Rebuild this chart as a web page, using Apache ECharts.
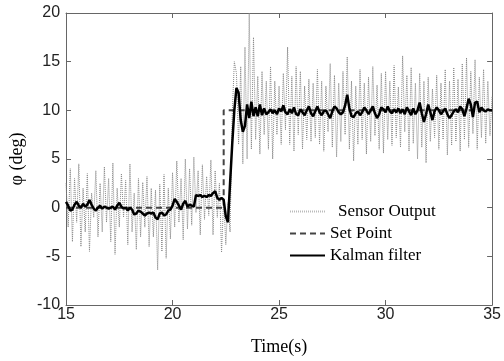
<!DOCTYPE html>
<html>
<head>
<meta charset="utf-8">
<script src="https://cdn.jsdelivr.net/npm/echarts@6/dist/echarts.min.js"></script>
<style>
  html, body { margin: 0; padding: 0; background: #fff; }
  #chart { width: 504px; height: 361px; }
</style>
</head>
<body>
<div id="chart"></div>
<script>
  // time grid: 15 s to 35 s, one sample every 0.1 s
  const tStart = 15;
  const tStep = 0.1;

  // raw sensor angle (deg)
  const sensorValues = [
    2.5, -2.0, 4.0, -3.5, 3.0, -1.5, 4.5, -4.0, 2.0, -2.5,
    3.5, -4.5, 1.5, -1.0, 3.8, -3.0, 2.5, -2.5, 4.2, -1.5,
    3.0, -3.5, 4.6, -4.8, 2.0, -2.0, 3.5, -1.0, 2.8, -3.8,
    4.5, -2.5, 1.5, -4.3, 3.0, -3.0, 2.6, -2.0, 3.2, -4.0,
    2.0, -3.0, 1.8, -6.4, 2.4, -4.5, 3.4, -5.2, 2.0, -3.2,
    3.6, -2.0, 4.8, -1.5, 3.0, -3.3, 5.0, -2.2, 4.0, -1.8,
    5.2, -0.5, 3.8, -2.8, 4.4, -1.2, 3.2, -0.8, 4.9, -2.8,
    3.8, -1.0, 2.5, -4.6, 1.0, -3.8, 0.5, -2.5, 9.5, 15.0,
    13.8, 6.5, 14.5, 4.5, 16.5, 5.0, 20.0, 6.0, 17.5, 7.0,
    13.5, 5.5, 14.0, 7.5, 13.0, 6.0, 14.5, 5.0, 13.0, 7.5,
    12.5, 6.5, 13.8, 8.0, 16.5, 6.5, 13.5, 5.8, 14.5, 7.5,
    14.0, 6.0, 12.5, 7.0, 13.2, 6.8, 12.8, 7.2, 14.2, 6.5,
    13.0, 5.8, 12.5, 7.8, 14.8, 6.2, 13.6, 5.2, 12.8, 6.8,
    14.0, 7.5, 15.5, 6.0, 13.0, 4.8, 12.5, 6.5, 14.2, 7.0,
    12.8, 5.5, 13.4, 6.8, 14.5, 7.4, 12.6, 6.0, 13.8, 5.6,
    14.0, 7.0, 13.0, 6.4, 14.6, 7.2, 12.4, 6.2, 15.6, 7.8,
    13.6, 5.8, 14.4, 6.6, 12.8, 5.0, 13.8, 6.2, 13.0, 4.6,
    13.4, 6.8, 12.2, 7.2, 13.6, 6.0, 12.8, 7.0, 14.2, 5.4,
    13.0, 6.4, 14.4, 6.8, 13.2, 5.8, 14.8, 7.0, 15.4, 6.2,
    14.0, 7.6, 15.2, 6.0, 13.4, 7.2, 14.2, 6.6, 13.0, 7.4,
    11.5
  ];

  // kalman filter output (deg)
  const kalmanValues = [
    0.6, 0.2, -0.3, -0.2, 0.3, 0.6, 0.2, 0.0, 0.4, 0.1,
    0.3, 0.8, 0.3, -0.1, -0.3, 0.0, 0.2, -0.1, 0.1, 0.0,
    -0.1, 0.0, 0.1, -0.2, 0.2, 0.5, 0.1, -0.1, 0.0, -0.3,
    0.0, -0.2, -0.7, -0.6, -0.3, -0.4, -0.6, -0.8, -0.6, -0.5,
    -0.6, -0.5, -1.0, -1.2, -0.6, -0.5, -0.8, -0.7, -0.3, -0.2,
    0.2, 0.9, 0.6, 0.2, -0.2, 0.4, 0.7, 0.1, 0.3, 0.2,
    0.1, 1.3, 1.2, 1.3, 1.1, 1.2, 1.1, 1.3, 1.2, 1.5,
    1.7, 1.0, 0.8, 1.0, 0.8, -0.9, -1.5, 2.5, 6.5, 10.0,
    12.3, 11.8, 9.0, 7.8, 8.4, 10.6, 9.2, 10.9, 9.4, 10.3,
    9.4, 10.6, 9.5, 10.2, 9.6, 9.8, 10.1, 9.7, 10.0, 9.6,
    10.2, 9.9, 10.5, 9.8, 9.6, 10.1, 9.7, 10.3, 9.6, 9.5,
    10.1, 9.8, 9.5, 10.0, 10.4, 9.7, 9.4, 9.9, 10.4, 9.8,
    9.5, 9.9, 10.0, 9.6, 9.2, 9.9, 10.4, 10.2, 9.8, 9.6,
    9.8, 10.5, 11.6, 10.2, 9.4, 9.3, 9.7, 9.9, 9.5, 9.8,
    10.3, 10.0, 9.6, 10.0, 10.4, 9.7, 9.2, 9.6, 10.3, 10.1,
    9.8, 10.4, 9.9, 9.7, 10.1, 9.8, 10.2, 9.7, 10.1, 9.6,
    10.3, 9.9, 9.5, 10.2, 9.6, 10.0, 10.8, 9.7, 8.8, 9.6,
    10.6, 9.8, 9.0, 9.9, 10.3, 10.0, 9.6, 9.9, 10.2, 9.6,
    9.2, 9.5, 9.9, 10.1, 9.8, 10.4, 10.1, 9.4, 10.2, 11.2,
    10.6, 9.3, 10.8, 10.9, 9.8, 10.3, 10.0, 9.9, 10.1, 10.0,
    10.0
  ];

  // set point: step from 0 to 10 deg at 22.4 s
  const setTimes = [15, 22.4, 22.4, 35];
  const setValues = [0, 0, 10, 10];

  const seriesNames = ['Sensor Output', 'Set Point', 'Kalman filter'];
  const xTicks = [15, 20, 25, 30, 35];
  const yTicks = [-10, -5, 0, 5, 10, 15, 20];

  function toPairs(vals){
    return vals.map((v, i) => [+(tStart + i * tStep).toFixed(1), v]);
  }

  const sansFont = '"Liberation Sans", Arial, sans-serif';
  const serifFont = '"Liberation Serif", "Times New Roman", serif';
  const axisColor = '#666';

  // box axes on top/right: line + inward ticks, no labels
  function boxAxis(pos, ticks){
    return {
      type: 'value',
      position: pos,
      min: ticks[0],
      max: ticks[ticks.length - 1],
      interval: 5,
      axisLine: { show: true, onZero: false, lineStyle: { color: axisColor, width: 1 } },
      axisTick: { show: true, inside: true, length: 5, lineStyle: { color: axisColor } },
      axisLabel: { show: false },
      splitLine: { show: false }
    };
  }

  let myChart = echarts.init(document.getElementById('chart'));
  let option = {
    animation: false,
    backgroundColor: '#fff',
    grid: { left: 56, right: 9, top: 13, bottom: 56 },
    legend: {
      orient: 'vertical',
      left: 284,
      top: 198,
      itemWidth: 35,
      itemHeight: 14,
      itemGap: 5,
      data: [
        { name: seriesNames[0], lineStyle: { color: '#bbb' }, textStyle: { padding: [0, 0, 0, 8] } },
        { name: seriesNames[1] },
        { name: seriesNames[2] }
      ],
      itemStyle: { opacity: 0 },
      textStyle: { fontFamily: serifFont, fontSize: 17, color: '#000' }
    },
    xAxis: [{
      type: 'value',
      min: xTicks[0],
      max: xTicks[xTicks.length - 1],
      interval: 5,
      name: 'Time(s)',
      nameLocation: 'middle',
      nameGap: 33,
      nameTextStyle: { fontFamily: serifFont, fontSize: 18, color: '#000' },
      axisLine: { onZero: false, lineStyle: { color: axisColor, width: 1 } },
      axisTick: { inside: true, length: 5, lineStyle: { color: axisColor } },
      axisLabel: { margin: 2, fontFamily: sansFont, fontSize: 16, color: '#222' },
      splitLine: { show: false }
    }, boxAxis('top', xTicks)],
    yAxis: [{
      type: 'value',
      min: yTicks[0],
      max: yTicks[yTicks.length - 1],
      interval: 5,
      name: 'φ (deg)',
      nameLocation: 'middle',
      nameGap: 39,
      nameTextStyle: { fontFamily: serifFont, fontSize: 18, color: '#000' },
      axisLine: { show: true, onZero: false, lineStyle: { color: axisColor, width: 1 } },
      axisTick: { show: true, inside: true, length: 5, lineStyle: { color: axisColor } },
      axisLabel: { margin: 6, fontFamily: sansFont, fontSize: 16, color: '#222' },
      splitLine: { show: false }
    }, boxAxis('right', yTicks)],
    series: [
      {
        name: seriesNames[0],
        type: 'line',
        data: toPairs(sensorValues),
        showSymbol: false,
        symbol: 'none',
        lineStyle: { color: '#888', width: 1, type: [1, 1] },
        itemStyle: { color: '#888' },
        z: 1
      },
      {
        name: seriesNames[1],
        type: 'line',
        data: setTimes.map((t, i) => [t, setValues[i]]),
        showSymbol: false,
        symbol: 'none',
        lineStyle: { color: '#444', width: 2, type: [6, 4] },
        itemStyle: { color: '#444' },
        z: 2
      },
      {
        name: seriesNames[2],
        type: 'line',
        data: toPairs(kalmanValues),
        showSymbol: false,
        symbol: 'none',
        lineStyle: { color: '#000', width: 2.5 },
        itemStyle: { color: '#000' },
        z: 3
      }
    ]
  };
  option && myChart.setOption(option);
</script>
</body>
</html>
